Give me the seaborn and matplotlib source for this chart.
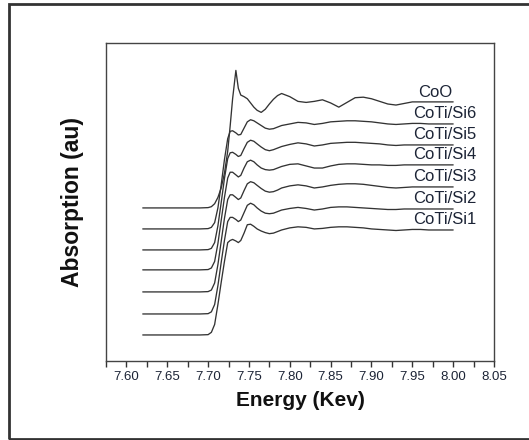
import numpy as np
import pandas as pd
import matplotlib
matplotlib.use("Agg")
import matplotlib.pyplot as plt
import matplotlib.patches as mpatches
import seaborn as sns

# energy grid (keV) shared by all spectra
energy = [7.620, 7.690, 7.700, 7.704, 7.708, 7.712, 7.716, 7.720, 7.724, 7.727,
          7.730, 7.734, 7.737, 7.740, 7.744, 7.748, 7.752, 7.756, 7.760, 7.765,
          7.770, 7.775, 7.780, 7.785, 7.790, 7.800, 7.810, 7.820, 7.830, 7.840,
          7.850, 7.860, 7.870, 7.880, 7.890, 7.900, 7.910, 7.920, 7.930, 7.940,
          7.950, 7.960, 7.970, 7.980, 7.990, 8.000]

# normalised absorption (before stacking)
coo = [0.000, 0.000, 0.003, 0.012, 0.040, 0.100, 0.190, 0.330, 0.540, 0.780,
       1.040, 1.310, 1.140, 1.075, 1.060, 1.040, 1.000, 0.960, 0.930, 0.910,
       0.940, 0.990, 1.035, 1.070, 1.090, 1.060, 1.015, 1.005, 1.015, 1.030,
       1.000, 0.960, 1.005, 1.050, 1.055, 1.040, 1.015, 0.990, 0.980, 0.995,
       1.010, 1.010, 1.010, 1.010, 1.010, 1.010]
si6 = [0.000, 0.000, 0.003, 0.015, 0.060, 0.200, 0.420, 0.660, 0.860, 0.930,
       0.935, 0.915, 0.895, 0.900, 0.960, 1.020, 1.040, 1.030, 1.010, 0.985,
       0.960, 0.950, 0.955, 0.970, 0.985, 1.000, 1.015, 1.010, 0.995, 1.005,
       1.020, 1.025, 1.030, 1.030, 1.025, 1.020, 1.010, 1.000, 0.995, 1.000,
       1.005, 1.005, 1.000, 1.000, 1.000, 1.000]
si5 = [0.000, 0.000, 0.003, 0.015, 0.070, 0.230, 0.450, 0.680, 0.870, 0.925,
       0.930, 0.910, 0.890, 0.900, 0.965, 1.025, 1.045, 1.035, 1.010, 0.980,
       0.955, 0.945, 0.955, 0.970, 0.985, 1.005, 1.020, 1.010, 0.990, 1.000,
       1.015, 1.020, 1.025, 1.025, 1.020, 1.015, 1.010, 1.000, 0.995, 1.000,
       1.000, 1.000, 1.000, 1.000, 1.000, 1.000]
si4 = [0.000, 0.000, 0.003, 0.018, 0.080, 0.250, 0.470, 0.690, 0.875, 0.930,
       0.930, 0.905, 0.885, 0.900, 0.970, 1.030, 1.045, 1.030, 1.000, 0.970,
       0.955, 0.950, 0.955, 0.970, 0.985, 1.005, 1.010, 0.990, 0.970, 0.970,
       0.990, 1.005, 1.010, 1.010, 1.005, 1.000, 1.000, 0.995, 0.995, 1.000,
       1.000, 1.000, 1.000, 1.000, 1.000, 1.000]
si3 = [0.000, 0.000, 0.003, 0.018, 0.085, 0.260, 0.480, 0.700, 0.880, 0.925,
       0.925, 0.900, 0.880, 0.895, 0.965, 1.030, 1.050, 1.040, 1.015, 0.985,
       0.960, 0.950, 0.955, 0.970, 0.990, 1.010, 1.020, 1.010, 0.990, 1.000,
       1.015, 1.025, 1.030, 1.030, 1.025, 1.015, 1.005, 0.995, 0.990, 0.995,
       1.000, 1.000, 1.000, 1.000, 1.000, 1.000]
si2 = [0.000, 0.000, 0.003, 0.020, 0.090, 0.270, 0.490, 0.700, 0.880, 0.920,
       0.920, 0.900, 0.880, 0.895, 0.965, 1.035, 1.055, 1.040, 1.010, 0.980,
       0.960, 0.955, 0.960, 0.975, 0.990, 1.005, 1.015, 1.005, 0.990, 1.000,
       1.015, 1.020, 1.020, 1.015, 1.010, 1.005, 1.000, 0.995, 0.995, 1.000,
       1.000, 1.000, 1.000, 1.000, 1.000, 1.000]
si1 = [0.000, 0.000, 0.003, 0.025, 0.100, 0.290, 0.500, 0.700, 0.880, 0.900,
       0.910, 0.895, 0.880, 0.900, 0.970, 1.050, 1.055, 1.035, 1.010, 0.990,
       0.975, 0.965, 0.970, 0.985, 1.000, 1.020, 1.030, 1.025, 1.010, 1.015,
       1.025, 1.030, 1.030, 1.025, 1.020, 1.010, 1.005, 1.000, 0.995, 1.000,
       1.005, 1.005, 1.000, 1.000, 1.000, 1.000]

samples = ["CoTi/Si1", "CoTi/Si2", "CoTi/Si3", "CoTi/Si4", "CoTi/Si5", "CoTi/Si6", "CoO"]
spectra = [si1, si2, si3, si4, si5, si6, coo]
offsets = [0.00, 0.20, 0.41, 0.62, 0.81, 1.01, 1.21]

xticks = [7.60, 7.65, 7.70, 7.75, 7.80, 7.85, 7.90, 7.95, 8.00, 8.05]

# long form table, stacked
rows = []
for name, vals, off in zip(samples, spectra, offsets):
    for e, v in zip(energy, vals):
        rows.append({"energy": e, "absorption": v + off, "sample": name})
df = pd.DataFrame(rows)

sns.set_style("white")
plt.rcParams['font.family'] = ['Liberation Sans', 'DejaVu Sans']

fig = plt.figure(figsize=(5.29, 4.40), dpi=100)
ax = fig.add_axes([106 / 529, 79 / 440, 388 / 529, 318 / 440])

sns.lineplot(data=df, x="energy", y="absorption", hue="sample",
             palette={s: "#333333" for s in samples}, estimator=None,
             sort=False, legend=False, linewidth=0.95, ax=ax)

txt_col = "#1c2436"
for name, off in zip(samples, offsets):
    x = 7.957 if name == "CoO" else 7.951
    ax.text(x, off + 1.10, name, fontsize=12, color=txt_col,
            ha="left", va="center")

ax.set_xlim(7.575, 8.05)
ax.set_ylim(-0.248, 2.781)
ax.set_xticks(xticks)
ax.set_xticklabels([f"{t:.2f}" for t in xticks])
ax.set_xticks(np.arange(7.575, 8.051, 0.025), minor=True)
ax.set_yticks([])
ax.tick_params(axis="x", which="both", direction="out", length=4, width=1,
               color="#333333", bottom=True, labelsize=9.5, labelcolor=txt_col, pad=3)
for sp in ax.spines.values():
    sp.set_color("#444444")
    sp.set_linewidth(1.0)

ax.set_xlabel("Energy (Kev)", fontsize=15, fontweight="bold", color="#111111", labelpad=6)
ax.set_ylabel("Absorption (au)", fontsize=16.5, fontweight="bold", color="#111111", labelpad=16)

# frame around the whole picture
fig.patches.append(mpatches.Rectangle((9 / 529, 1 / 440), 530 / 529, 434.5 / 440,
                                      transform=fig.transFigure, fill=False,
                                      edgecolor="#333333", linewidth=2))

fig.savefig("out.png", dpi=100)
